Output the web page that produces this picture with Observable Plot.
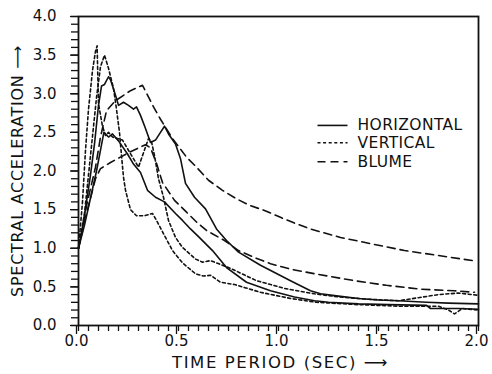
<!DOCTYPE html>
<html>
<head>
<meta charset="utf-8">
<script src="https://cdn.jsdelivr.net/npm/d3@7"></script>
<script src="https://cdn.jsdelivr.net/npm/@observablehq/plot@0.6"></script>
<style>
  html, body { margin: 0; padding: 0; background: #fff; }
  #chart svg { display: block; }
</style>
</head>
<body>
<div id="chart"></div>
<script>
// ---- data ----
const xMajorTicks = [0, 0.5, 1.0, 1.5, 2.0];
const yMajorTicks = [0, 0.5, 1.0, 1.5, 2.0, 2.5, 3.0, 3.5, 4.0];
const xMinorTicks = d3.range(0, 2.0001, 0.05);
const yMinorTicks = d3.range(0, 4.0001, 0.1);

const seriesNames = ["HORIZONTAL", "VERTICAL", "BLUME"];

const horizUpperT = [0, 0.02, 0.04, 0.06, 0.08, 0.10, 0.115, 0.13, 0.15, 0.16, 0.185, 0.20, 0.225, 0.25, 0.275, 0.29, 0.31, 0.335, 0.36, 0.385, 0.41, 0.43, 0.45, 0.485, 0.51, 0.535, 0.58, 0.635, 0.69, 0.74, 0.80, 0.91, 1.06, 1.16, 1.21, 1.3, 1.4, 1.5, 1.6, 1.74, 1.85, 2.0];
const horizUpperSA = [1.0, 1.25, 1.6, 1.95, 2.35, 2.85, 3.1, 3.12, 3.22, 3.18, 2.98, 2.85, 2.89, 2.85, 2.80, 2.83, 2.72, 2.55, 2.37, 2.40, 2.5, 2.58, 2.48, 2.35, 2.16, 1.84, 1.66, 1.51, 1.25, 1.1, 0.95, 0.78, 0.58, 0.45, 0.41, 0.38, 0.35, 0.33, 0.32, 0.30, 0.29, 0.28];

const horizLowerT = [0, 0.03, 0.06, 0.09, 0.11, 0.127, 0.15, 0.17, 0.20, 0.245, 0.275, 0.31, 0.345, 0.385, 0.43, 0.485, 0.52, 0.56, 0.60, 0.635, 0.67, 0.74, 0.84, 0.96, 1.08, 1.18, 1.25, 1.4, 1.55, 1.74, 1.76, 1.9, 2.0];
const horizLowerSA = [1.0, 1.3, 1.65, 2.0, 2.27, 2.5, 2.44, 2.48, 2.39, 2.22, 2.09, 1.98, 1.75, 1.66, 1.60, 1.45, 1.36, 1.25, 1.15, 1.06, 0.97, 0.75, 0.56, 0.45, 0.37, 0.32, 0.30, 0.28, 0.27, 0.26, 0.22, 0.22, 0.21];

const vertUpperT = [0, 0.02, 0.035, 0.05, 0.07, 0.085, 0.093, 0.10, 0.12, 0.135, 0.15, 0.17, 0.22, 0.27, 0.30, 0.335, 0.35, 0.365, 0.38, 0.40, 0.425, 0.45, 0.485, 0.52, 0.585, 0.62, 0.66, 0.76, 0.89, 1.03, 1.18, 1.3, 1.45, 1.6, 1.7, 1.8, 1.9, 2.0];
const vertUpperSA = [1.0, 1.6, 2.27, 2.8, 3.3, 3.55, 3.62, 2.87, 2.58, 2.46, 2.5, 2.44, 2.4, 2.18, 2.05, 2.31, 2.42, 2.38, 2.2, 1.9, 1.66, 1.36, 1.14, 1.01, 0.86, 0.82, 0.84, 0.74, 0.58, 0.48, 0.41, 0.37, 0.34, 0.32, 0.36, 0.40, 0.42, 0.39];

const vertLowerT = [0, 0.03, 0.06, 0.09, 0.11, 0.13, 0.15, 0.175, 0.19, 0.205, 0.215, 0.225, 0.235, 0.26, 0.29, 0.33, 0.37, 0.39, 0.435, 0.47, 0.52, 0.585, 0.625, 0.66, 0.71, 0.78, 0.91, 1.06, 1.19, 1.4, 1.6, 1.8, 1.85, 1.88, 1.92, 2.0];
const vertLowerSA = [1.0, 1.45, 2.2, 2.95, 3.35, 3.5, 3.33, 3.07, 2.8, 2.5, 2.2, 1.92, 1.75, 1.5, 1.42, 1.42, 1.45, 1.36, 1.14, 0.97, 0.81, 0.67, 0.64, 0.65, 0.56, 0.53, 0.43, 0.35, 0.30, 0.27, 0.25, 0.25, 0.2, 0.15, 0.22, 0.2];

const blumeUpperT = [0, 0.04, 0.085, 0.11, 0.14, 0.185, 0.26, 0.32, 0.375, 0.41, 0.47, 0.54, 0.59, 0.65, 0.72, 0.79, 0.86, 0.93, 1.01, 1.085, 1.16, 1.24, 1.31, 1.46, 1.63, 1.79, 1.97];
const blumeUpperSA = [1.0, 1.55, 2.05, 2.44, 2.78, 2.91, 3.04, 3.11, 2.83, 2.67, 2.42, 2.18, 2.05, 1.88, 1.75, 1.64, 1.55, 1.49, 1.40, 1.32, 1.25, 1.19, 1.14, 1.06, 0.97, 0.91, 0.84];

const blumeLowerT = [0, 0.03, 0.06, 0.085, 0.11, 0.16, 0.21, 0.26, 0.31, 0.335, 0.36, 0.39, 0.42, 0.48, 0.535, 0.59, 0.64, 0.73, 0.80, 0.88, 0.96, 1.06, 1.18, 1.38, 1.54, 1.71, 1.88, 1.98];
const blumeLowerSA = [1.0, 1.35, 1.65, 1.9, 2.03, 2.11, 2.18, 2.25, 2.31, 2.34, 2.3, 2.1, 1.85, 1.62, 1.48, 1.34, 1.23, 1.10, 0.97, 0.88, 0.80, 0.73, 0.67, 0.58, 0.52, 0.47, 0.45, 0.43];

// ---- build tables ----
const toRows = (ts, vs, name) => ts.map((t, i) => ({t, v: vs[i], name}));
const styles = {
  HORIZONTAL: {dash: null},
  VERTICAL: {dash: "3,2.6"},
  BLUME: {dash: "8,5"}
};
const curves = [
  toRows(horizUpperT, horizUpperSA, "HORIZONTAL"),
  toRows(horizLowerT, horizLowerSA, "HORIZONTAL"),
  toRows(vertUpperT, vertUpperSA, "VERTICAL"),
  toRows(vertLowerT, vertLowerSA, "VERTICAL"),
  toRows(blumeUpperT, blumeUpperSA, "BLUME"),
  toRows(blumeLowerT, blumeLowerSA, "BLUME")
];

// legend layout (data units)
const legendX1 = 1.195, legendX2 = 1.345, legendTextX = 1.395;
const legendY = [2.59, 2.365, 2.12];
const legendRows = seriesNames.map((name, i) => ({name, y: legendY[i]}));

const font = "'DejaVu Sans', sans-serif";

const lineMarks = curves.map(rows => Plot.line(rows, {
  x: "t", y: "v", stroke: "#111", strokeWidth: 1.6,
  strokeDasharray: styles[rows[0].name].dash, curve: "linear"
}));

const legendMarks = legendRows.map(r => Plot.link([r], {
  x1: () => legendX1, x2: () => legendX2, y1: "y", y2: "y",
  stroke: "#111", strokeWidth: 1.6, strokeDasharray: styles[r.name].dash
}));

const chart = Plot.plot({
  width: 492, height: 374,
  marginLeft: 78, marginRight: 14, marginTop: 16, marginBottom: 49,
  x: {domain: [0, 2]},
  y: {domain: [0, 4]},
  style: {fontFamily: font, fontSize: "13px", color: "#111", background: "#fff"},
  marks: [
    Plot.axisX({ticks: xMinorTicks, tickSize: 6, tickFormat: () => "", label: null, strokeWidth: 1.3}),
    Plot.axisX({ticks: xMajorTicks, tickSize: 9, tickPadding: 1, tickFormat: d => d.toFixed(1), label: null, fontSize: 15, strokeWidth: 1.3, dx: -2}),
    Plot.axisY({ticks: yMinorTicks, tickSize: 7, tickFormat: () => "", label: null, strokeWidth: 1.3}),
    Plot.axisY({ticks: yMajorTicks, tickSize: 8, tickPadding: 14, tickFormat: d => d.toFixed(1), label: null, fontSize: 15, strokeWidth: 1.3}),
    Plot.frame({stroke: "#111", strokeWidth: 1.8}),
    ...lineMarks,
    ...legendMarks,
    Plot.text(legendRows, {x: () => legendTextX, y: "y", text: "name", textAnchor: "start", fontSize: 15.5, fill: "#111"}),
    Plot.text(["SPECTRAL ACCELERATION \u27F6"], {frameAnchor: "left", textAnchor: "middle", lineAnchor: "middle", dx: -61, rotate: -90, fontSize: 16, fill: "#111"}),
    Plot.text(["TIME PERIOD (SEC) \u27F6"], {frameAnchor: "bottom", textAnchor: "middle", lineAnchor: "middle", dx: 2, dy: 37, fontSize: 16.5, fill: "#111"})
  ]
});
// letter spacing to match the wide lettering of the scan
chart.querySelectorAll("text").forEach(t => {
  const s = t.textContent;
  if (s.startsWith("SPECTRAL")) t.setAttribute("letter-spacing", "0.7");
  else if (s.startsWith("TIME")) t.setAttribute("letter-spacing", "1.6");
  else if (seriesNames.includes(s)) t.setAttribute("letter-spacing", "0.4");
});
document.getElementById("chart").appendChild(chart);
</script>
</body>
</html>
